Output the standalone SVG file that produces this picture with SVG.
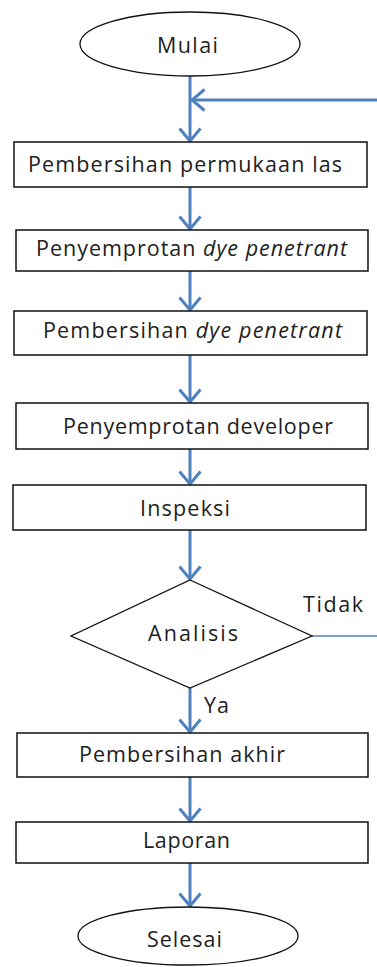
<svg xmlns="http://www.w3.org/2000/svg" width="377" height="967" viewBox="0 0 377 967">
<style>
.box{fill:#fff;stroke:#111;stroke-width:1.5}
.term{fill:#fff;stroke:#111;stroke-width:1.3}
.t{font-family:"Open Sans","Liberation Sans",sans-serif;font-size:21.5px;fill:#1e1e1e}
.c{fill:none;stroke:#4F81BD;stroke-width:3}
.thin{fill:none;stroke:#4F81BD;stroke-width:1.3}
</style>
<defs>
<marker id="ah" viewBox="0 0 16 24" refX="14" refY="12" markerWidth="16" markerHeight="24" markerUnits="userSpaceOnUse" orient="auto">
<path d="M1.5,1.5 L14,12 L1.5,22.5" fill="none" stroke="#4F81BD" stroke-width="3"/>
</marker>
</defs>
<g id="connectors">
<line class="c" x1="190" y1="76" x2="190" y2="141" marker-end="url(#ah)"/>
<line class="c" x1="377" y1="100" x2="192" y2="100" stroke-width="2.2" marker-end="url(#ah)"/>
<line class="c" x1="190" y1="187" x2="190" y2="229" marker-end="url(#ah)"/>
<line class="c" x1="190" y1="271" x2="190" y2="310" marker-end="url(#ah)"/>
<line class="c" x1="190" y1="355" x2="190" y2="402" marker-end="url(#ah)"/>
<line class="c" x1="190" y1="449" x2="190" y2="484" marker-end="url(#ah)"/>
<line class="c" x1="190" y1="530" x2="190" y2="579" marker-end="url(#ah)"/>
<line class="thin" x1="312" y1="636" x2="377" y2="636"/>
<line class="c" x1="190" y1="688" x2="190" y2="732" marker-end="url(#ah)"/>
<line class="c" x1="190" y1="777" x2="190" y2="821" marker-end="url(#ah)"/>
<line class="c" x1="190" y1="863" x2="190" y2="906" marker-end="url(#ah)"/>
</g>
<g id="mulai">
<ellipse class="term" cx="190" cy="44" rx="110" ry="32"/>
<text class="t" x="157" y="53" textLength="61">Mulai</text>
</g>
<g id="pembersihan-permukaan">
<rect class="box" x="14" y="142" width="353" height="45"/>
<text class="t" x="28" y="172" textLength="314">Pembersihan permukaan las</text>
</g>
<g id="penyemprotan-dye">
<rect class="box" x="16" y="230" width="352" height="41"/>
<text class="t" x="36" y="256" textLength="311">Penyemprotan <tspan font-style="italic">dye penetrant</tspan></text>
</g>
<g id="pembersihan-dye">
<rect class="box" x="14" y="311" width="353" height="44"/>
<text class="t" x="43" y="338" textLength="299">Pembersihan <tspan font-style="italic">dye penetrant</tspan></text>
</g>
<g id="penyemprotan-developer">
<rect class="box" x="16" y="403" width="352" height="46"/>
<text class="t" x="63" y="434" textLength="270">Penyemprotan developer</text>
</g>
<g id="inspeksi">
<rect class="box" x="13" y="485" width="353" height="45"/>
<text class="t" x="140" y="516" textLength="90">Inspeksi</text>
</g>
<g id="analisis">
<polygon class="term" points="190,580 312,636 190,688 71,636"/>
<text class="t" x="148" y="641" textLength="90">Analisis</text>
<text class="t" x="303" y="612" textLength="60">Tidak</text>
<text class="t" x="204" y="713" textLength="25">Ya</text>
</g>
<g id="pembersihan-akhir">
<rect class="box" x="17" y="733" width="351" height="44"/>
<text class="t" x="79" y="762" textLength="206">Pembersihan akhir</text>
</g>
<g id="laporan">
<rect class="box" x="16" y="822" width="352" height="41"/>
<text class="t" x="143" y="848" textLength="87">Laporan</text>
</g>
<g id="selesai">
<ellipse class="term" cx="188" cy="936" rx="110" ry="29"/>
<text class="t" x="147" y="947" textLength="75">Selesai</text>
</g>
</svg>
